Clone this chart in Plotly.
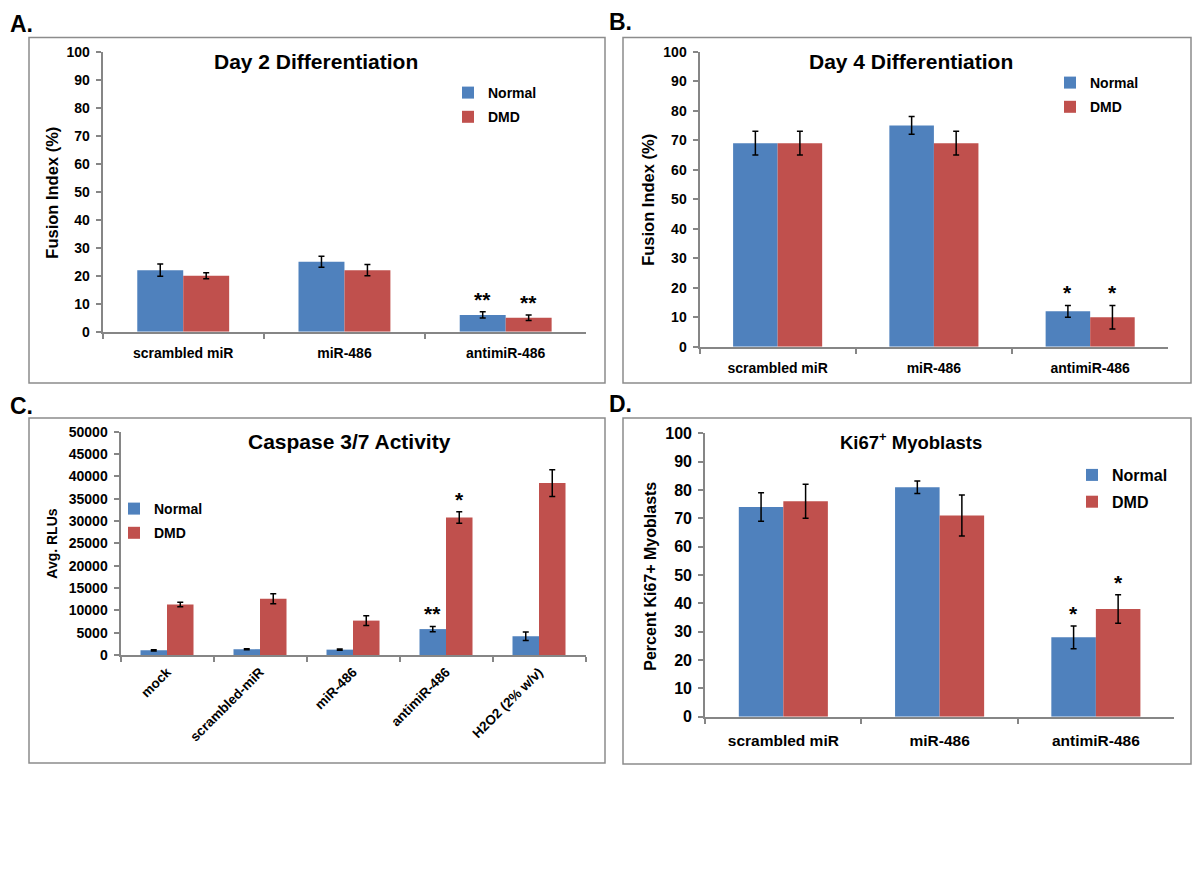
import plotly.graph_objects as go

# page body adds an 8px margin, so the figure is drawn 8px in from the corner;
# keep the figure inside the 1200x893 viewport so no scrollbars appear
OFF = 8
W, H = 1200 - 2 * OFF, 893 - 2 * OFF
FONT = "Liberation Sans, Arial, Helvetica, sans-serif"
BLUE = "#4F81BD"
RED = "#C0504D"
AXIS_GRAY = "#868686"
BOX_GRAY = "#8C8C8C"
BARGAP = 0.43

# ---------------- data ----------------
cats_abd = ["scrambled miR", "miR-486", "antimiR-486"]
cats_c = ["mock", "scrambled-miR", "miR-486", "antimiR-486", "H2O2 (2% w/v)"]
series_names = ["Normal", "DMD"]

a_normal = [22, 25, 6]
a_normal_err = [2.2, 2, 1.1]
a_dmd = [20, 22, 5]
a_dmd_err = [1.1, 2, 1]
a_sig_normal = ["", "", "**"]
a_sig_dmd = ["", "", "**"]

b_normal = [69, 75, 12]
b_normal_err = [4, 3, 2]
b_dmd = [69, 69, 10]
b_dmd_err = [4, 4, 4]
b_sig_normal = ["", "", "*"]
b_sig_dmd = ["", "", "*"]

c_normal = [1050, 1300, 1200, 5800, 4200]
c_normal_err = [150, 120, 120, 600, 950]
c_dmd = [11300, 12600, 7700, 30800, 38500]
c_dmd_err = [500, 1100, 1100, 1300, 3000]
c_sig_normal = ["", "", "", "**", ""]
c_sig_dmd = ["", "", "", "*", ""]

d_normal = [74, 81, 28]
d_normal_err = [5, 2.2, 4]
d_dmd = [76, 71, 38]
d_dmd_err = [6, 7.2, 5]
d_sig_normal = ["", "", "*"]
d_sig_dmd = ["", "", "*"]

titles = ["Day 2 Differentiation", "Day 4 Differentiation",
          "Caspase 3/7 Activity", "Ki67<sup>+</sup> Myoblasts"]
ytitles = ["Fusion Index (%)", "Fusion Index (%)", "Avg. RLUs",
           "Percent Ki67+ Myoblasts"]
panel_labels = ["A.", "B.", "C.", "D."]


def px(x):
    return (x - OFF) / W


def py(y):
    return 1 - (y - OFF) / H


# panel geometry in page pixels
panels = [
    dict(x0=102.6, x1=586.3, yb=331.7, yt=52.0, rng=[0, 100], dt=10,
         cats=cats_abd, vals=(a_normal, a_dmd), errs=(a_normal_err, a_dmd_err),
         sig=(a_sig_normal, a_sig_dmd), tickfs=14, xfs=14, rot=0, xso=7,
         box=(29, 605, 37.5, 383), title_xy=(316, 61), tfs=21,
         yt_xy=(51.7, 193), ytfs=16.5, leg=(488, 93), legfs=14,
         lab_xy=(21, 24)),
    dict(x0=699.5, x1=1168.3, yb=346.7, yt=51.7, rng=[0, 100], dt=10,
         cats=cats_abd, vals=(b_normal, b_dmd), errs=(b_normal_err, b_dmd_err),
         sig=(b_sig_normal, b_sig_dmd), tickfs=14, xfs=14, rot=0, xso=7,
         box=(623, 1191, 37.5, 383), title_xy=(910.7, 61), tfs=21,
         yt_xy=(647.8, 200), ytfs=16.5, leg=(1090, 83), legfs=14,
         lab_xy=(620, 22)),
    dict(x0=120.5, x1=585.5, yb=655.0, yt=431.7, rng=[0, 50000], dt=5000,
         cats=cats_c, vals=(c_normal, c_dmd), errs=(c_normal_err, c_dmd_err),
         sig=(c_sig_normal, c_sig_dmd), tickfs=14, xfs=13.5, rot=-45, xso=2,
         box=(29, 605, 418, 763), title_xy=(349, 441.7), tfs=21,
         yt_xy=(51.7, 544), ytfs=14, leg=(154, 509), legfs=14,
         lab_xy=(21, 406)),
    dict(x0=705.2, x1=1174.0, yb=716.7, yt=433.3, rng=[0, 100], dt=10,
         cats=cats_abd, vals=(d_normal, d_dmd), errs=(d_normal_err, d_dmd_err),
         sig=(d_sig_normal, d_sig_dmd), tickfs=16, xfs=15.5, rot=0, xso=9,
         box=(623, 1191, 418, 764), title_xy=(910.7, 441), tfs=18.5,
         yt_xy=(649.7, 576), ytfs=16, leg=(1112, 474), legfs=16,
         lab_xy=(620, 404)),
]

fig = go.Figure()
layout = dict(
    width=W, height=H, margin=dict(l=0, r=0, t=0, b=0, pad=0),
    paper_bgcolor="white", plot_bgcolor="white",
    barmode="group", bargap=BARGAP, bargroupgap=0,
    font=dict(family=FONT, color="black"),
)
annotations = []
shapes = []
colors = [BLUE, RED]
bar_w = (1 - BARGAP) / 2
offsets = [-bar_w / 2, bar_w / 2]

for i, p in enumerate(panels):
    n = i + 1
    xa = "x" if n == 1 else f"x{n}"
    ya = "y" if n == 1 else f"y{n}"
    leg = "legend" if n == 1 else f"legend{n}"
    for s in range(2):
        fig.add_trace(go.Bar(
            x=p["cats"], y=p["vals"][s], name=series_names[s],
            marker=dict(color=colors[s], line=dict(width=0)),
            error_y=dict(type="data", array=p["errs"][s], visible=True,
                         color="black", thickness=1.5, width=3),
            xaxis=xa, yaxis=ya, legend=leg, legendgroup=f"g{n}{s}",
        ))
        for k, txt in enumerate(p["sig"][s]):
            if txt:
                annotations.append(dict(
                    x=k + offsets[s], y=p["vals"][s][k] + p["errs"][s][k],
                    xref=xa, yref=ya, text=txt, showarrow=False,
                    yanchor="bottom", yshift=-1,
                    font=dict(size=21, family=FONT, weight="bold"),
                ))
    axis_common = dict(showline=True, linecolor=AXIS_GRAY, linewidth=2,
                       ticks="outside", tickcolor=AXIS_GRAY, tickwidth=1.5,
                       ticklen=5, showgrid=False, zeroline=False,
                       automargin=False)
    layout["xaxis" if n == 1 else f"xaxis{n}"] = dict(
        domain=[px(p["x0"]), px(p["x1"])], anchor=ya, type="category",
        range=[-0.5, len(p["cats"]) - 0.5], tickson="boundaries",
        tickangle=p["rot"], ticklabelstandoff=p["xso"],
        tickfont=dict(size=p["xfs"], family=FONT, weight="bold"),
        **axis_common)
    layout["yaxis" if n == 1 else f"yaxis{n}"] = dict(
        domain=[py(p["yb"]), py(p["yt"])], anchor=xa, range=p["rng"],
        dtick=p["dt"], tick0=0, tickformat="d", ticklabelstandoff=3,
        tickfont=dict(size=p["tickfs"], family=FONT, weight="bold"),
        **axis_common)
    layout[leg] = dict(
        x=px(p["leg"][0] - 40), y=py(p["leg"][1] - 16), xanchor="left",
        yanchor="top", bgcolor="rgba(0,0,0,0)", borderwidth=0,
        font=dict(size=p["legfs"], family=FONT, weight="bold"),
        itemwidth=30, tracegroupgap=3,
    )
    # chart title
    annotations.append(dict(
        x=px(p["title_xy"][0]), y=py(p["title_xy"][1]), xref="paper",
        yref="paper", text=titles[i], showarrow=False,
        xanchor="center", yanchor="middle",
        font=dict(size=p["tfs"], family=FONT, weight="bold")))
    # y axis title
    annotations.append(dict(
        x=px(p["yt_xy"][0]), y=py(p["yt_xy"][1]), xref="paper",
        yref="paper", text=ytitles[i], showarrow=False, textangle=-90,
        xanchor="center", yanchor="middle",
        font=dict(size=p["ytfs"], family=FONT, weight="bold")))
    # panel letter
    annotations.append(dict(
        x=px(p["lab_xy"][0]), y=py(p["lab_xy"][1]), xref="paper",
        yref="paper", text=panel_labels[i], showarrow=False,
        xanchor="center", yanchor="middle",
        font=dict(size=23, family=FONT, weight="bold")))
    # panel frame
    bx0, bx1, by0, by1 = p["box"]
    shapes.append(dict(type="rect", xref="paper", yref="paper",
                       x0=px(bx0), x1=px(bx1), y0=py(by1), y1=py(by0),
                       line=dict(color=BOX_GRAY, width=1.5),
                       fillcolor="rgba(0,0,0,0)", layer="below"))

layout["annotations"] = annotations
layout["shapes"] = shapes
layout["showlegend"] = True
fig.update_layout(**layout)
fig.write_html("out.html")
